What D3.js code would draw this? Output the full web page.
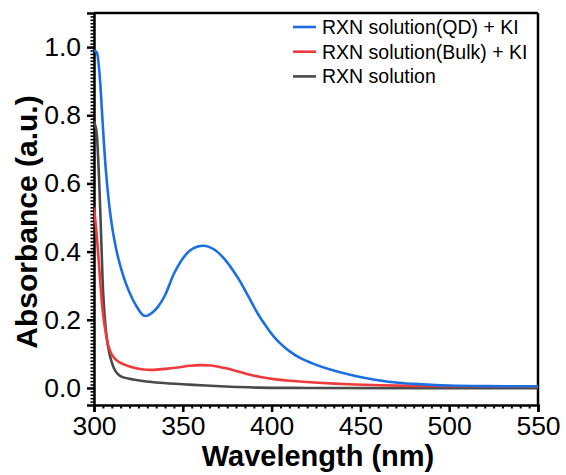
<!DOCTYPE html>
<html>
<head>
<meta charset="utf-8">
<script src="https://cdn.jsdelivr.net/npm/d3@7"></script>
<style>
  body { margin: 0; background: #fff; }
  svg { display: block; font-family: Arial, "Liberation Sans", Helvetica, sans-serif; }
</style>
</head>
<body>
<div id="chart"></div>
<script>
// series data
const qdWavelength = [300, 301.5, 302.5, 303.5, 304.5, 305.5, 306.5, 307.5, 308.5, 309.5, 310.5, 311.5, 312.5, 314, 316, 318, 320, 322, 324, 326, 327.5, 329, 330.5, 333, 336, 340, 345, 350, 354, 358, 362, 366, 370, 374, 378, 382, 387, 392, 397, 401, 405, 410, 416, 424, 433, 443, 452, 461, 470, 480, 490, 500, 520, 550];
const qdAbs = [0.99, 0.985, 0.955, 0.895, 0.81, 0.725, 0.65, 0.59, 0.54, 0.498, 0.463, 0.433, 0.407, 0.374, 0.337, 0.306, 0.28, 0.258, 0.239, 0.223, 0.214, 0.211, 0.213, 0.222, 0.238, 0.272, 0.335, 0.38, 0.403, 0.414, 0.417, 0.411, 0.397, 0.375, 0.347, 0.315, 0.268, 0.22, 0.18, 0.152, 0.13, 0.108, 0.088, 0.07, 0.054, 0.04, 0.03, 0.022, 0.016, 0.012, 0.009, 0.007, 0.0055, 0.005];

const bulkWavelength = [300, 301.5, 303.4, 305, 306.5, 308, 310, 313, 316.5, 322, 328, 333, 340, 347, 354, 360, 366, 373, 380, 386, 393, 401, 410, 424, 443, 461, 480, 500, 550];
const bulkAbs = [0.53, 0.45, 0.32, 0.22, 0.165, 0.125, 0.098, 0.08, 0.07, 0.06, 0.054, 0.053, 0.056, 0.06, 0.065, 0.067, 0.066, 0.059, 0.05, 0.041, 0.033, 0.026, 0.021, 0.016, 0.011, 0.008, 0.006, 0.005, 0.005];

const rxnWavelength = [300, 301.2, 302.4, 303.8, 305.2, 306.5, 308, 310, 312, 314, 316.5, 322, 335, 350, 363, 380, 392, 420, 550];
const rxnAbs = [0.78, 0.76, 0.667, 0.48, 0.276, 0.18, 0.119, 0.075, 0.05, 0.038, 0.031, 0.025, 0.016, 0.011, 0.007, 0.003, 0.001, 0.0, -0.001];

const seriesNames = ["RXN solution(QD) + KI", "RXN solution(Bulk) + KI", "RXN solution"];
const seriesColors = ["#1c6fe0", "#ee3a3c", "#4a4a4a"];

const xTicks = [300, 350, 400, 450, 500, 550];
const yTicks = [0.0, 0.2, 0.4, 0.6, 0.8, 1.0];

const xLabel = "Wavelength (nm)";
const yLabel = "Absorbance (a.u.)";

// layout
const width = 566, height = 475;
const margin = { left: 94, right: 28, top: 13, bottom: 70 };
const innerW = width - margin.left - margin.right;
const innerH = height - margin.top - margin.bottom;

const svg = d3.select("#chart").append("svg")
    .attr("width", width)
    .attr("height", height);

const x = d3.scaleLinear().domain([300, 550]).range([0, innerW]);
const y = d3.scaleLinear().domain([-0.05, 1.1]).range([innerH, 0]);

const g = svg.append("g")
    .attr("transform", `translate(${margin.left},${margin.top})`);

svg.append("defs").append("clipPath")
    .attr("id", "plot-clip")
  .append("rect")
    .attr("width", innerW)
    .attr("height", innerH);

// minor ticks first so majors sit on top
g.append("g")
    .attr("transform", `translate(0,${innerH})`)
    .call(d3.axisBottom(x).tickValues(d3.range(300, 551, 5)).tickSize(3.5).tickFormat(""))
    .call(a => a.select(".domain").remove())
    .call(a => a.selectAll("line").attr("stroke-width", 2));

g.append("g")
    .call(d3.axisLeft(y).tickValues(d3.range(-4, 110, 1).map(d => d / 100)).tickSize(3.5).tickFormat(""))
    .call(a => a.select(".domain").remove())
    .call(a => a.selectAll("line").attr("stroke-width", 1.6));

// major axes
const xAxis = g.append("g")
    .attr("class", "x-axis")
    .attr("transform", `translate(0,${innerH})`)
    .call(d3.axisBottom(x).tickValues(xTicks).tickSize(7).tickPadding(4).tickFormat(d3.format("d")));

const yAxis = g.append("g")
    .attr("class", "y-axis")
    .call(d3.axisLeft(y).tickValues(yTicks).tickSize(7).tickPadding(6).tickFormat(d3.format(".1f")));

[xAxis, yAxis].forEach(a => {
    a.select(".domain").attr("stroke-width", 2.5).attr("stroke", "#000");
    a.selectAll(".tick line").attr("stroke-width", 2.5);
    a.selectAll(".tick text")
        .attr("font-size", 26.5)
        .attr("font-family", "Arial, 'Liberation Sans', sans-serif")
        .attr("fill", "#000");
});

// top and right frame
g.append("line")
    .attr("x1", 0).attr("x2", innerW)
    .attr("y1", 0).attr("y2", 0)
    .attr("stroke", "#000").attr("stroke-width", 2.5);
g.append("line")
    .attr("x1", innerW).attr("x2", innerW)
    .attr("y1", 0).attr("y2", innerH)
    .attr("stroke", "#000").attr("stroke-width", 2.5);

// curves
const seriesData = [
    d3.zip(qdWavelength, qdAbs),
    d3.zip(bulkWavelength, bulkAbs),
    d3.zip(rxnWavelength, rxnAbs)
];

const line = d3.line()
    .x(d => x(d[0]))
    .y(d => y(d[1]))
    .curve(d3.curveCatmullRom.alpha(0.5));

g.append("g")
    .attr("clip-path", "url(#plot-clip)")
  .selectAll("path.series")
  .data([2, 1, 0])
  .join("path")
    .attr("class", "series")
    .attr("fill", "none")
    .attr("stroke", i => seriesColors[i])
    .attr("stroke-width", 2.6)
    .attr("stroke-linejoin", "round")
    .attr("d", i => line(seriesData[i]));

// legend
const legend = g.append("g")
    .attr("transform", `translate(${293 - margin.left},${27 - margin.top})`);

const legendItem = legend.selectAll("g.item")
    .data(seriesNames)
    .join("g")
    .attr("class", "item")
    .attr("transform", (d, i) => `translate(0,${i * 24.7})`);

legendItem.append("line")
    .attr("x1", 0).attr("x2", 23)
    .attr("stroke", (d, i) => seriesColors[i])
    .attr("stroke-width", 2.6);

legendItem.append("text")
    .attr("x", 29)
    .attr("dy", "0.35em")
    .attr("font-size", 19.5)
    .attr("fill", "#000")
    .text(d => d);

// axis titles
svg.append("text")
    .attr("x", margin.left + innerW / 2 + 2)
    .attr("y", 466)
    .attr("text-anchor", "middle")
    .attr("font-size", 29)
    .attr("font-weight", "bold")
    .text(xLabel);

svg.append("text")
    .attr("transform", `translate(37,222) rotate(-90)`)
    .attr("text-anchor", "middle")
    .attr("font-size", 30)
    .attr("font-weight", "bold")
    .text(yLabel);
</script>
</body>
</html>
